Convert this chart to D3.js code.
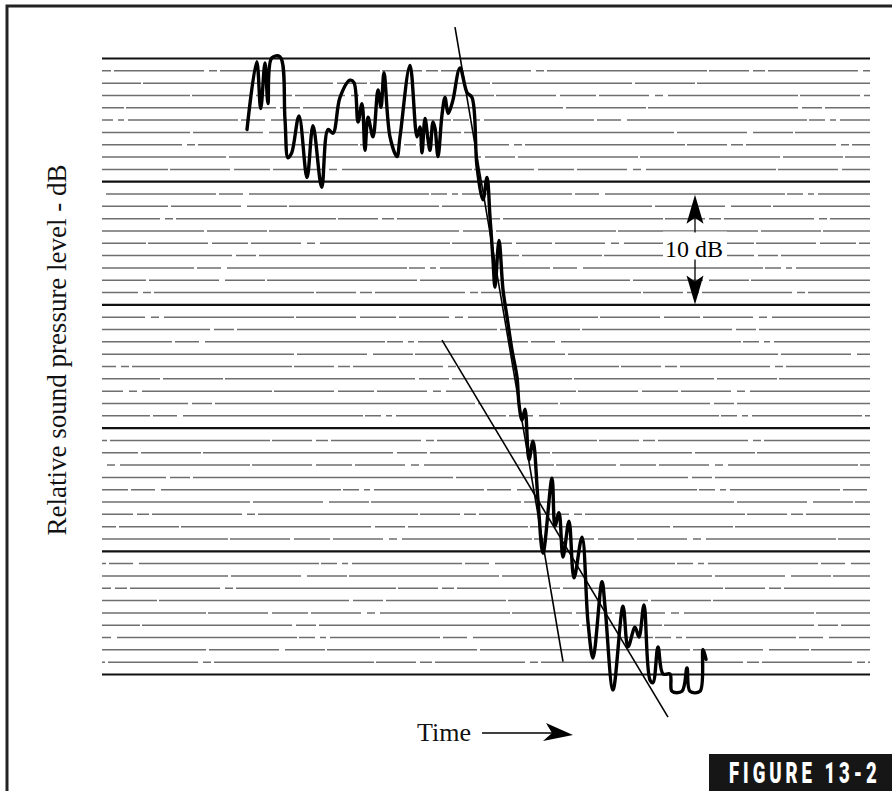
<!DOCTYPE html>
<html>
<head>
<meta charset="utf-8">
<script src="https://cdn.jsdelivr.net/npm/d3@7"></script>
<style>
  html, body { margin: 0; padding: 0; background: #fff; }
  svg { display: block; }
</style>
</head>
<body>
<svg id="chart" width="892" height="791"></svg>
<script>
// ---------- data ----------
// time (arbitrary units) of each traced point of the decay recording
const traceTime = [145,154.7,158.7,163,166,169.7,178,183,186,189.7,197,205,211,219.7,226,231,238,248,252,256,260,263,266,271,276,279,282,288,295,298,308,315,318,320,323,326,328,331,333,336,340,343,346,348,351,358,365,370,375,381,385,388,391,393,397,401,405,410,415,417,420,423,427,431,436,441,450,453,457,461,467,472,480,486,491,500,503,511,521,526,533,537,542,548,551,556,561,568,570,580,585,588,598,601,604];
// relative sound pressure level (dB) at each traced point
const traceLevel = [-5.8,-0.3,-4.1,-0.4,-3.7,0,0.1,-5.0,-8.1,-7.7,-4.7,-9.7,-5.5,-10.5,-5.8,-6.1,-3.2,-1.8,-2.0,-5.2,-3.7,-7.5,-4.8,-6.4,-2.6,-4.0,-1.2,-6.4,-8.0,-6.4,-0.6,-6.4,-5.6,-7.7,-4.9,-6.6,-7.5,-5.2,-5.7,-8.0,-4.6,-3.2,-4.5,-4.2,-3.4,-0.8,-2.8,-3.2,-8.8,-11.5,-9.7,-12.9,-16.4,-18.6,-14.8,-18.8,-21.0,-23.7,-25.9,-28.1,-29.4,-28.5,-32.6,-31.1,-35.9,-40.2,-34.1,-38.0,-36.9,-40.5,-37.6,-42.2,-38.9,-45.8,-48.7,-42.5,-44.5,-51.3,-44.5,-47.8,-46.2,-47.0,-44.4,-50.5,-50.7,-47.8,-50.0,-50.0,-51.4,-51.4,-49.5,-51.4,-51.4,-48.0,-48.8];
// fitted decay slopes: [time, level] end points
const steepSlope = [[353, 2.5], [461, -49.0]];
const shallowSlope = [[340, -22.9], [566, -53.5]];
// grid levels (dB), one line per dB, heavy every 10 dB
const gridLevels = d3.range(-50, 1, 1);
// "10 dB" scale marker: arrow tip levels and time position
const markerTime = 593;
const markerTop = -11.1, markerBottom = -20.0;
const markerLabel = "10 dB";
const yLabel = "Relative sound pressure level - dB";
const xLabel = "Time";
const figureLabel = "FIGURE 13-2";

// ---------- layout ----------
const svg = d3.select("#chart");
const padL = 102, padR = 870, padT = 58, padB = 674;
const x = d3.scaleLinear().domain([0, 768]).range([padL, padR]);
const y = d3.scaleLinear().domain([-50, 0]).range([padB, padT]);

// frame (top and left edges)
svg.append("path")
  .attr("d", "M7,791 L7,6 L892,6")
  .attr("fill", "none").attr("stroke", "#222").attr("stroke-width", 3);

// grid via axis
const dashPatterns = [
  "140,3,60,2,190,4,30,3,120,2",
  "40,4,12,3,90,5,8,3,160,2",
  "210,3,70,6,40,2,150,3",
  "16,5,6,4,110,3,24,6,180,2",
  "80,2,150,4,20,3,260,3",
  "50,6,8,5,130,2,60,4,36,3"
];
const grid = svg.append("g")
  .attr("transform", `translate(${padL},0)`)
  .call(d3.axisLeft(y).tickValues(gridLevels).tickSize(-(padR - padL)).tickFormat(""));
grid.select(".domain").remove();
grid.selectAll(".tick line")
  .attr("stroke", (d) => d % 10 === 0 ? "#111" : "#6f6f6f")
  .attr("stroke-width", (d) => d % 10 === 0 ? 2.2 : 1.5)
  .attr("stroke-dasharray", (d, i) => d % 10 === 0 ? null : dashPatterns[i % dashPatterns.length])
  .attr("stroke-dashoffset", (d, i) => (i * 53) % 170);

// decay trace
const pts = traceTime.map((t, i) => [t, traceLevel[i]]);
const line = d3.line().x(d => x(d[0])).y(d => y(d[1])).curve(d3.curveCatmullRom.alpha(0.5));
svg.append("path")
  .datum(pts)
  .attr("d", line)
  .attr("fill", "none").attr("stroke", "#000").attr("stroke-width", 3.4)
  .attr("stroke-linejoin", "round").attr("stroke-linecap", "round");

// slope lines
const straight = d3.line().x(d => x(d[0])).y(d => y(d[1]));
[steepSlope, shallowSlope].forEach(s => {
  svg.append("path").datum(s).attr("d", straight)
    .attr("fill", "none").attr("stroke", "#000").attr("stroke-width", 1.6);
});

// 10 dB marker
const mx = x(markerTime);
const yTop = y(markerTop), yBot = y(markerBottom);
const mg = svg.append("g");
mg.append("rect").attr("x", mx - 32).attr("y", (yTop + yBot) / 2 - 18)
  .attr("width", 64).attr("height", 28).attr("fill", "#fff");
mg.append("line").attr("x1", mx).attr("x2", mx).attr("y1", yTop + 10).attr("y2", (yTop + yBot) / 2 - 17)
  .attr("stroke", "#000").attr("stroke-width", 1.3);
mg.append("line").attr("x1", mx).attr("x2", mx).attr("y1", (yTop + yBot) / 2 + 10).attr("y2", yBot - 10)
  .attr("stroke", "#000").attr("stroke-width", 1.3);
mg.append("path")
  .attr("d", `M${mx},${yTop} L${mx + 8.5},${yTop + 29} L${mx},${yTop + 23} L${mx - 8.5},${yTop + 29} Z`)
  .attr("fill", "#000");
mg.append("path")
  .attr("d", `M${mx},${yBot} L${mx + 8.5},${yBot - 29} L${mx},${yBot - 23} L${mx - 8.5},${yBot - 29} Z`)
  .attr("fill", "#000");
mg.append("text").attr("x", mx - 1).attr("y", (yTop + yBot) / 2 + 7)
  .attr("text-anchor", "middle")
  .attr("font-family", "'Liberation Serif', 'Times New Roman', serif")
  .attr("font-size", 24).text(markerLabel);

// y-axis label
svg.append("text")
  .attr("transform", "translate(66,350) rotate(-90)")
  .attr("text-anchor", "middle")
  .attr("font-family", "'Liberation Serif', 'Times New Roman', serif")
  .attr("font-size", 27).attr("fill", "#111")
  .text(yLabel);

// time label + arrow
svg.append("text")
  .attr("x", 471).attr("y", 741)
  .attr("text-anchor", "end")
  .attr("font-family", "'Liberation Serif', 'Times New Roman', serif")
  .attr("font-size", 26).attr("fill", "#111")
  .text(xLabel);
svg.append("line").attr("x1", 482).attr("x2", 556).attr("y1", 733).attr("y2", 733)
  .attr("stroke", "#000").attr("stroke-width", 1.6);
svg.append("path").attr("d", "M573,735 L546,723 L552,733 L543,741 Z").attr("fill", "#000");

// figure tag
svg.append("rect").attr("x", 709).attr("y", 754).attr("width", 183).attr("height", 37).attr("fill", "#161616");
svg.append("text")
  .attr("transform", "translate(729,783) scale(0.64,1)")
  .attr("font-family", "Roboto, 'DejaVu Sans', sans-serif")
  .attr("font-weight", 900).attr("font-size", 29).attr("fill", "#fff")
  .attr("textLength", 231).attr("lengthAdjust", "spacing")
  .text(figureLabel);
</script>
</body>
</html>
